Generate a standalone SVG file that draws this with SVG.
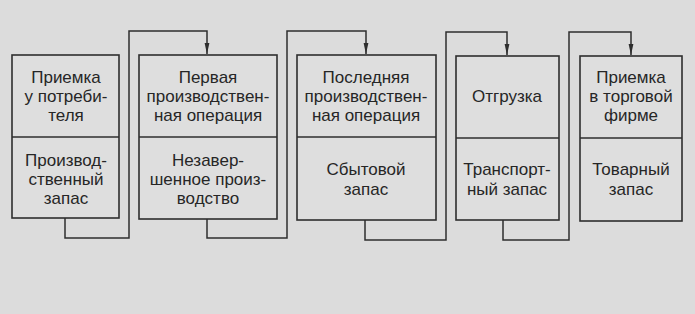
<svg xmlns="http://www.w3.org/2000/svg" width="695" height="314" viewBox="0 0 695 314">
<style>
.bg{fill:#dcdcdc}
.box{fill:#dedede;stroke:#2e2e2e;stroke-width:1.6}
.div{stroke:#2e2e2e;stroke-width:1.4}
.t{font-family:"Liberation Sans",Arial,sans-serif;font-size:17px;fill:#262626;text-anchor:middle}
.c{fill:none;stroke:#2e2e2e;stroke-width:1.5;marker-end:url(#ah)}
</style>
<defs>
<marker id="ah" markerUnits="userSpaceOnUse" markerWidth="12" markerHeight="8" refX="11" refY="4" orient="auto" viewBox="0 0 12 8">
<path d="M0,1.6 L11,4 L0,6.4 Z" fill="#2e2e2e"/>
</marker>
</defs>
<rect class="bg" x="0" y="0" width="695" height="314"/>
<g id="connectors">
<path class="c" d="M65,218 V238 H129 V31 H207 V54"/>
<path class="c" d="M207,219 V238 H287 V31 H366 V54"/>
<path class="c" d="M365,220 V240 H446 V32 H507 V55"/>
<path class="c" d="M503,220 V240 H569 V32 H631 V55"/>
</g>
<g id="n1">
<rect class="box" x="12" y="55" width="107" height="163"/>
<line class="div" x1="12" y1="137" x2="119" y2="137"/>
<text class="t" x="66" y="83">Приемка</text>
<text class="t" x="66" y="102">у потреби-</text>
<text class="t" x="66" y="121">теля</text>
<text class="t" x="66" y="166">Производ-</text>
<text class="t" x="66" y="185">ственный</text>
<text class="t" x="66" y="204">запас</text>
</g>
<g id="n2">
<rect class="box" x="139" y="55" width="138" height="164"/>
<line class="div" x1="139" y1="137" x2="277" y2="137"/>
<text class="t" x="208" y="83">Первая</text>
<text class="t" x="208" y="102">производствен-</text>
<text class="t" x="208" y="121">ная операция</text>
<text class="t" x="208" y="166">Незавер-</text>
<text class="t" x="208" y="185">шенное произ-</text>
<text class="t" x="208" y="204">водство</text>
</g>
<g id="n3">
<rect class="box" x="297" y="55" width="139" height="165"/>
<line class="div" x1="297" y1="137" x2="436" y2="137"/>
<text class="t" x="366" y="83">Последняя</text>
<text class="t" x="366" y="102">производствен-</text>
<text class="t" x="366" y="121">ная операция</text>
<text class="t" x="366" y="175">Сбытовой</text>
<text class="t" x="366" y="195">запас</text>
</g>
<g id="n4">
<rect class="box" x="456" y="56" width="103" height="164"/>
<line class="div" x1="456" y1="138" x2="559" y2="138"/>
<text class="t" x="507" y="102">Отгрузка</text>
<text class="t" x="507" y="175">Транспорт-</text>
<text class="t" x="507" y="195">ный запас</text>
</g>
<g id="n5">
<rect class="box" x="580" y="56" width="102" height="165"/>
<line class="div" x1="580" y1="138" x2="682" y2="138"/>
<text class="t" x="631" y="83">Приемка</text>
<text class="t" x="631" y="102">в торговой</text>
<text class="t" x="631" y="121">фирме</text>
<text class="t" x="631" y="175">Товарный</text>
<text class="t" x="631" y="195">запас</text>
</g>
</svg>
